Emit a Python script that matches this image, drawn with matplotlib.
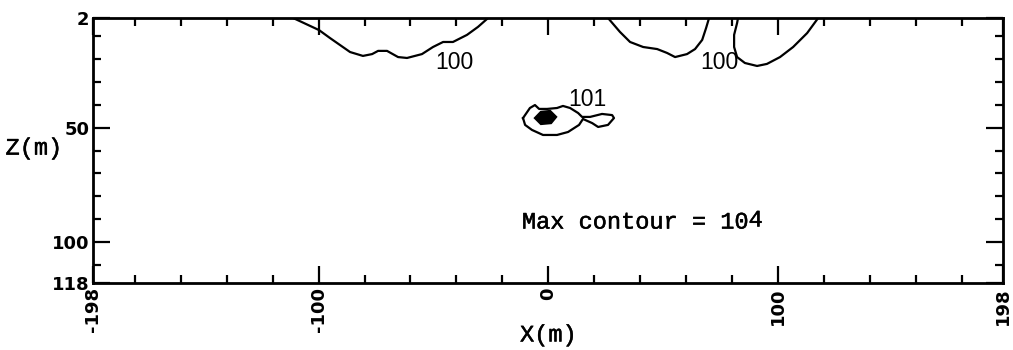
import matplotlib
matplotlib.use("Agg")
import matplotlib.pyplot as plt
import matplotlib.patheffects as pe
from matplotlib.ticker import FixedLocator

# contour level 100, lobe west of the source
c100_west_x = [-111.1, -99.8, -95.0, -86.3, -80.7, -76.7, -74.1, -70.2, -65.4,
               -61.5, -55.0, -50.2, -45.8, -41.5, -35.4, -30.6, -26.2]
c100_west_z = [2, 7.3, 10.8, 16.9, 18.6, 17.8, 16.4, 16.4, 19.1,
               19.5, 17.8, 14.7, 12.5, 12.5, 9.4, 5.9, 2]

# contour level 100, two lobes east of the source
c100_east1_x = [26.0, 31.2, 35.6, 41.3, 47.4, 51.7, 55.2, 60.4, 63.9, 67.0, 68.7, 70.0]
c100_east1_z = [2, 8.1, 12.5, 14.7, 15.6, 17.3, 19.1, 17.8, 15.6, 11.6, 6.4, 2]

c100_east2_x = [82.6, 82.2, 80.9, 80.9, 82.2, 85.6, 90.9, 95.2, 100.9, 106.6, 112.7, 117.5]
c100_east2_z = [2, 4.2, 9.4, 14.7, 19.1, 21.7, 23.0, 22.1, 19.1, 14.7, 8.6, 2]

# contour level 101 around the source, with its small tail
c101_x = [-11.0, -8.0, -5.8, -4.0, -0.5, 3.8, 6.4, 9.5, 13.0, 14.7, 18.2, 23.4,
          27.8, 28.6, 26.0, 21.7, 19.1, 15.1, 13.4, 8.6, 3.8, -2.3, -7.1, -10.1, -11.0]
c101_z = [45.8, 41.4, 40.1, 41.8, 41.8, 41.4, 40.5, 41.4, 43.6, 45.3, 45.3, 44.0,
          44.5, 45.8, 48.8, 49.7, 48.0, 46.2, 48.8, 51.9, 53.2, 53.2, 51.0, 48.8, 45.8]

# inner contours (102 and up) packed into the core
core_x = [-5.8, -3.2, 0.8, 3.4, 1.2, -3.2]
core_z = [45.8, 43.1, 42.7, 45.3, 48.0, 48.4]

xticks = [-198, -100, 0, 100, 198]
xtick_labels = ["-198", "-100", "0", "100", "198"]
yticks = [2, 50, 100, 118]
xminor = [-180, -160, -140, -120, -80, -60, -40, -20, 20, 40, 60, 80, 120, 140, 160, 180]
yminor = [10, 20, 30, 40, 60, 70, 80, 90, 110]

fig = plt.figure(figsize=(10.13, 3.5), dpi=100)
ax = fig.add_axes([0.0923, 0.1914, 0.8979, 0.7572])

line_kw = dict(color="black", lw=1.6, solid_joinstyle="round")
ax.plot(c100_west_x, c100_west_z, **line_kw)
ax.plot(c100_east1_x, c100_east1_z, **line_kw)
ax.plot(c100_east2_x, c100_east2_z, **line_kw)
ax.plot(c101_x, c101_z, **line_kw)
ax.fill(core_x, core_z, color="black", lw=1.6)

lab_kw = dict(family="Liberation Sans", fontsize=16.5, ha="center", va="center")
ax.text(-41.0, 21.3, "100", **lab_kw)
ax.text(74.3, 21.7, "100", **lab_kw)
ax.text(16.9, 37.5, "101", **lab_kw)

# plotter-style monospace, slightly thickened
heavy = [pe.withStroke(linewidth=0.35, foreground="black")]
mono = dict(family="Liberation Mono", fontsize=17, path_effects=heavy)
t = ax.text(0.471, 0.23, "Max contour = 10", transform=ax.transAxes,
            ha="left", va="center", **mono)
ax.annotate("4", xy=(1, 0), xycoords=t, xytext=(0.5, 1.5), textcoords="offset points",
            ha="left", va="bottom", **mono)

ax.set_xlim(-198, 198)
ax.set_ylim(118, 2)

ax.set_xticks(xticks)
ax.set_xticklabels(xtick_labels, rotation=90)
ax.set_yticks(yticks)
ax.xaxis.set_minor_locator(FixedLocator(xminor))
ax.yaxis.set_minor_locator(FixedLocator(yminor))
ax.tick_params(which="both", direction="in", top=True, right=True, width=1.6)
ax.tick_params(which="major", length=12, pad=3, labelsize=13)
ax.tick_params(which="minor", length=6)
for lab in ax.get_xticklabels() + ax.get_yticklabels():
    lab.set_fontweight("bold")
for sp in ax.spines.values():
    sp.set_linewidth(2)

ax.text(-0.0346, 0.509, "Z(m)", transform=ax.transAxes, ha="right", va="center", **mono)
ax.text(0.5, -0.196, "X(m)", transform=ax.transAxes, ha="center", va="center", **mono)

fig.savefig("out.png", dpi=100)
